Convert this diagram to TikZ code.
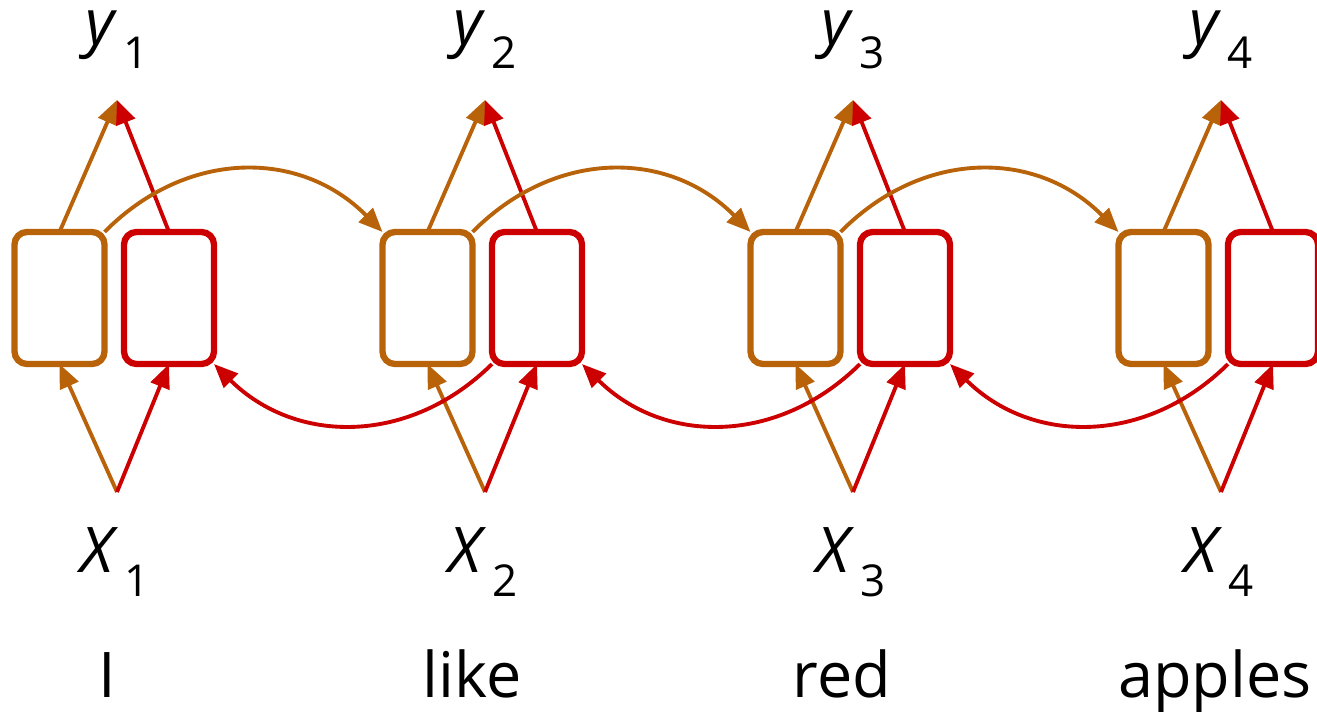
\documentclass[tikz,border=0pt]{standalone}
\usepackage{fontspec}
\setmainfont{Open Sans}
\usetikzlibrary{arrows.meta}
\definecolor{rnnorange}{RGB}{184,98,10}
\definecolor{rnnred}{RGB}{204,0,0}
\newcommand\rnnlab[2]{\textit{#1}\kern1.5pt\raisebox{-7.1pt}{\fontsize{12.5}{14}\selectfont #2}}
\begin{document}
\begin{tikzpicture}[x=0.01cm,y=-0.01cm,
  cell/.style={draw, line width=1.8pt, rounded corners=3.6pt, minimum width=0.9cm, minimum height=1.32cm, inner sep=0pt, outer sep=0pt},
  ocell/.style={cell, draw=rnnorange},
  rcell/.style={cell, draw=rnnred},
  conn/.style={line width=1.1pt, -{Triangle[length=6.8pt,width=5.6pt]}},
  oconn/.style={conn, color=rnnorange},
  rconn/.style={conn, color=rnnred},
  lbl/.style={font=\fontsize{17.9}{20}\selectfont, anchor=base, inner sep=0pt},
]
\clip (0,0) rectangle (1317,711);
\foreach \i/\w/\wx in {1/I/107,2/like/472,3/red/842,4/apples/1215}{
  \pgfmathsetmacro{\dx}{368*(\i-1)}
  \node[ocell] (o\i) at ({59.5+\dx},298) {};
  \node[rcell] (r\i) at ({169+\dx},298) {};
  \coordinate (t\i) at ({117+\dx},100);
  \coordinate (s\i) at ({117+\dx},492);
  \node[lbl] (y\i) at ({117+\dx},44) {\rnnlab{y}{\i}};
  \node[lbl] (x\i) at ({115+\dx},572) {\rnnlab{X}{\i}};
  \node[lbl] (w\i) at (\wx,697) {\w};
  \draw[oconn] (o\i.north) -- (t\i);
  \draw[rconn] (r\i.north) -- (t\i);
  \draw[oconn] (s\i) -- (o\i.south);
  \draw[rconn] (s\i) -- (r\i.south);
}
\foreach \i/\j in {1/2,2/3,3/4}{
  \draw[oconn] (o\i.north east) .. controls +(82,-83) and +(-82,-83) .. (o\j.north west);
  \draw[rconn] (r\j.south west) .. controls +(-82,81) and +(82,81) .. (r\i.south east);
}
\end{tikzpicture}
\end{document}
